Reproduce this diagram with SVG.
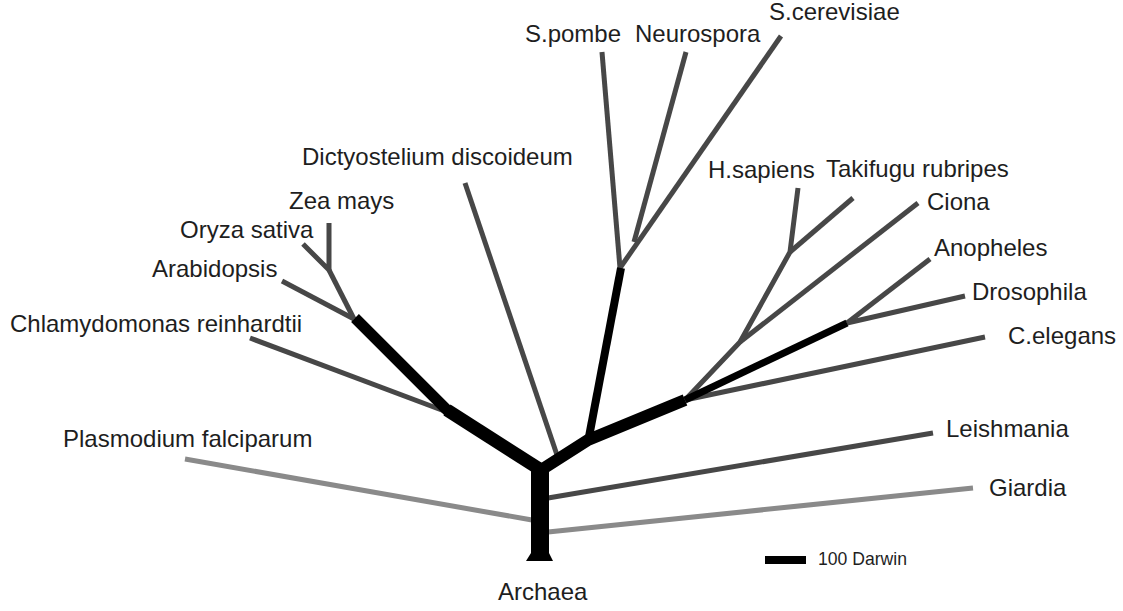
<svg xmlns="http://www.w3.org/2000/svg" width="1123" height="611" viewBox="0 0 1123 611">
<style>
text{font-family:"Liberation Sans",Arial,Helvetica,sans-serif;font-size:24px;fill:#1e1e1e}
.b{fill:none;stroke:#474747;stroke-width:5;stroke-linecap:butt;stroke-linejoin:round}
.l{fill:none;stroke:#8a8a8a;stroke-width:5;stroke-linecap:butt}
.k{fill:none;stroke:#000;stroke-linejoin:round;stroke-linecap:butt}
</style>
<rect width="1123" height="611" fill="#fff"/>
<g id="connectors">
<path class="l" d="M185,459 L532,520"/>
<path class="l" d="M548,532 L973,488"/>
<path class="b" d="M548,498 L933,433"/>
<path class="b" d="M465,183 L557,455"/>
<path class="b" d="M250,338 L447,412"/>
<path class="b" d="M282,281 L354,319"/>
<path class="b" stroke-width="6" d="M354,319 L329,270"/>
<path class="b" d="M303,244 L329,270 L329,223"/>
<path class="b" d="M602,52 L620,268"/>
<path class="b" d="M686,52 L634,242"/>
<path class="b" d="M781,36 L620,268"/>
<path class="b" d="M685,400 L740,342 L790,252 L798,188"/>
<path class="b" d="M790,252 L853,198"/>
<path class="b" d="M740,342 L918,203"/>
<path class="b" d="M847,323 L930,259"/>
<path class="b" d="M847,323 L965,296"/>
<path class="b" d="M685,400 L985,337"/>
<path class="k" stroke="#222" stroke-width="7" d="M685,400 L847,323"/>
<path class="k" stroke-width="13" d="M541,470 L447,410"/>
<path class="k" stroke-width="11" d="M449,412 L355,318"/>
<path class="k" stroke-width="12" d="M541,470 L588,440 L685,400"/>
<path class="k" stroke-width="8" d="M588,442 L621,268"/>
<path d="M531,470 L540,462 L549,470 L549,553 L553,561 L526,561 L531,553 Z" fill="#000"/>
<rect x="765" y="556" width="41" height="8" fill="#000"/>
</g>
<g id="node-archaea"><text x="498" y="600">Archaea</text></g>
<g id="node-scerevisiae"><text x="769" y="20">S.cerevisiae</text></g>
<g id="node-spombe"><text x="525" y="42">S.pombe</text></g>
<g id="node-neurospora"><text x="635" y="42">Neurospora</text></g>
<g id="node-dictyostelium"><text x="302" y="165">Dictyostelium discoideum</text></g>
<g id="node-hsapiens"><text x="708" y="178">H.sapiens</text></g>
<g id="node-takifugu"><text x="826" y="177">Takifugu rubripes</text></g>
<g id="node-ciona"><text x="927" y="210">Ciona</text></g>
<g id="node-anopheles"><text x="934" y="256">Anopheles</text></g>
<g id="node-drosophila"><text x="972" y="300">Drosophila</text></g>
<g id="node-celegans"><text x="1008" y="344">C.elegans</text></g>
<g id="node-leishmania"><text x="946" y="437">Leishmania</text></g>
<g id="node-giardia"><text x="989" y="496">Giardia</text></g>
<g id="node-zea"><text x="289" y="209">Zea mays</text></g>
<g id="node-oryza"><text x="180" y="238">Oryza sativa</text></g>
<g id="node-arabidopsis"><text x="152" y="277">Arabidopsis</text></g>
<g id="node-chlamydomonas"><text x="10" y="332">Chlamydomonas reinhardtii</text></g>
<g id="node-plasmodium"><text x="63" y="447">Plasmodium falciparum</text></g>
<g id="scale"><text x="818" y="565" style="font-size:19px" textLength="89" lengthAdjust="spacingAndGlyphs">100 Darwin</text></g>
</svg>
